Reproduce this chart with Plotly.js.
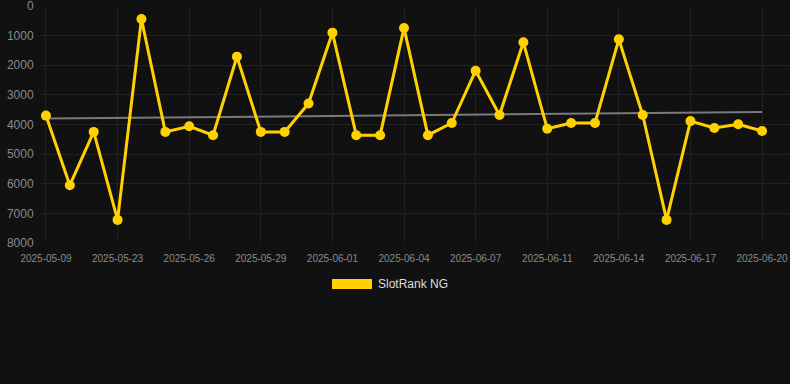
<!DOCTYPE html>
<html>
<head>
<meta charset="utf-8">
<script src="https://cdn.plot.ly/plotly-3.0.1.min.js"></script>
<style>
html,body{margin:0;padding:0;background:#111111;}
#chart{width:790px;height:384px;}
</style>
</head>
<body>
<div id="chart"></div>
<script>
const dates = [
  "2025-05-09","2025-05-14","2025-05-19","2025-05-23","2025-05-24","2025-05-25",
  "2025-05-26","2025-05-27","2025-05-28","2025-05-29","2025-05-30","2025-05-31",
  "2025-06-01","2025-06-02","2025-06-03","2025-06-04","2025-06-05","2025-06-06",
  "2025-06-07","2025-06-08","2025-06-10","2025-06-11","2025-06-12","2025-06-13",
  "2025-06-14","2025-06-15","2025-06-16","2025-06-17","2025-06-18","2025-06-19",
  "2025-06-20"
];
const rank = [
  3700, 6050, 4250, 7220, 440, 4250,
  4060, 4360, 1710, 4250, 4250, 3290,
  900, 4360, 4360, 740, 4360, 3950,
  2185, 3680, 1225, 4145, 3950, 3950,
  1125, 3680, 7220, 3885, 4120, 3990,
  4220
];
const trendX = ["2025-05-09", "2025-06-20"];
const trendY = [3800, 3580];
const tickDates = ["2025-05-09","2025-05-23","2025-05-26","2025-05-29","2025-06-01",
  "2025-06-04","2025-06-07","2025-06-11","2025-06-14","2025-06-17","2025-06-20"];
const yTicks = [0,1000,2000,3000,4000,5000,6000,7000,8000];
const seriesName = "SlotRank NG";

const traces = [
  {
    x: trendX, y: trendY, type: "scatter", mode: "lines",
    line: {color: "#7a7a7a", width: 2}, hoverinfo: "skip", showlegend: false
  },
  {
    x: dates, y: rank, type: "scatter", mode: "lines+markers", name: seriesName,
    line: {color: "#FFD100", width: 3},
    marker: {color: "#FFD100", size: 10},
    showlegend: false
  }
];

const layout = {
  width: 790, height: 384,
  paper_bgcolor: "#111111", plot_bgcolor: "#111111",
  margin: {l: 40, r: 0, t: 6, b: 141},
  font: {family: "Liberation Sans, Arial, sans-serif", color: "#8a8a8a"},
  showlegend: false,
  xaxis: {
    type: "category",
    categoryorder: "array", categoryarray: dates,
    range: [-0.25, 31.17],
    tickmode: "array", tickvals: tickDates, ticktext: tickDates,
    showgrid: true, gridcolor: "#202020", gridwidth: 1,
    zeroline: false, showline: false,
    ticks: "outside", ticklen: 6, tickcolor: "rgba(0,0,0,0)",
    tickfont: {size: 10, color: "#8a8a8a"}
  },
  yaxis: {
    range: [8000, 0],
    tickmode: "array", tickvals: yTicks,
    showgrid: true, gridcolor: "#222222", gridwidth: 1,
    zeroline: false, showline: false,
    ticklabeloverflow: "allow",
    ticks: "outside", ticklen: 3, tickcolor: "rgba(0,0,0,0)",
    tickfont: {size: 12, color: "#8a8a8a"}
  },
  shapes: [
    {type: "rect", xref: "paper", yref: "paper",
     x0: (332-40)/750, x1: (372-40)/750, y0: (243-289)/237, y1: (243-279)/237,
     fillcolor: "#FFD100", line: {width: 0}}
  ],
  annotations: [
    {xref: "paper", yref: "paper", x: (376-40)/750, y: (243-284)/237,
     xanchor: "left", yanchor: "middle", showarrow: false,
     text: seriesName, font: {size: 12, color: "#dddddd"}}
  ]
};

Plotly.newPlot("chart", traces, layout, {displayModeBar: false, staticPlot: true});
</script>
</body>
</html>
